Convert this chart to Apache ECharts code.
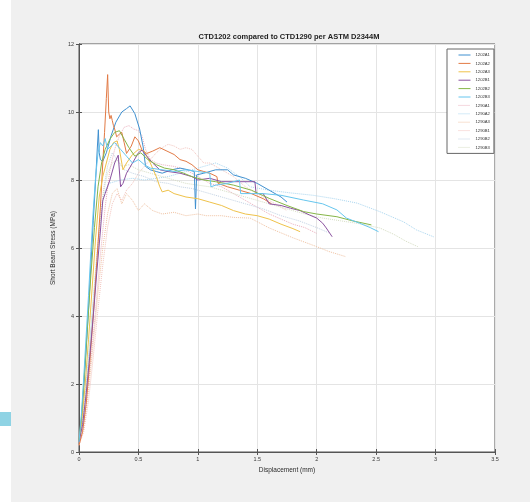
<!DOCTYPE html>
<html>
<head>
<meta charset="utf-8">
<title>CTD1202 compared to CTD1290 per ASTM D2344M</title>
<script src="https://cdn.jsdelivr.net/npm/echarts@6/dist/echarts.min.js"></script>
<style>
  html, body { margin: 0; padding: 0; background: #ffffff; }
  #chart { width: 530px; height: 502px; }
</style>
</head>
<body>
<div id="chart"></div>
<script>
// Axis tick labels
const xTicks = [0, 0.5, 1, 1.5, 2, 2.5, 3, 3.5];
const yTicks = [0, 2, 4, 6, 8, 10, 12];

// Specimen names (legend order)
const specimens = ['1202A1', '1202A2', '1202A3', '1202B1', '1202B2', '1202B3',
                   '1290A1', '1290A2', '1290A3', '1290B1', '1290B2', '1290B3'];

// Displacement (mm) and short beam stress (MPa) per specimen
const disp1202A1 = [0, 0.02, 0.04, 0.06, 0.08, 0.1, 0.12, 0.14, 0.155, 0.163, 0.17, 0.18, 0.2, 0.23, 0.27, 0.31, 0.36, 0.4, 0.43, 0.47, 0.51, 0.54, 0.56, 0.6, 0.65, 0.7, 0.78, 0.85, 0.92, 0.97, 0.98, 0.99, 1.05, 1.15, 1.25, 1.3, 1.4, 1.5, 1.6, 1.7, 1.75];
const stress1202A1 = [0.3, 0.9, 1.9, 3.0, 4.2, 5.5, 6.8, 8.0, 9.0, 9.48, 8.8, 8.6, 8.55, 8.8, 9.3, 9.7, 10.0, 10.1, 10.18, 9.95, 9.5, 8.97, 8.4, 8.3, 8.25, 8.2, 8.3, 8.35, 8.3, 8.25, 7.15, 8.15, 8.2, 8.3, 8.3, 8.15, 8.05, 7.9, 7.7, 7.5, 7.35];

const disp1202A2 = [0, 0.03, 0.06, 0.09, 0.12, 0.15, 0.18, 0.2, 0.215, 0.23, 0.241, 0.25, 0.26, 0.27, 0.28, 0.29, 0.3, 0.317, 0.34, 0.36, 0.38, 0.4, 0.44, 0.47, 0.5, 0.53, 0.57, 0.62, 0.68, 0.74, 0.8, 0.85, 0.9, 0.95, 1.0, 1.05, 1.1, 1.16, 1.17, 1.25, 1.35, 1.45, 1.55, 1.62];
const stress1202A2 = [0.2, 0.6, 1.4, 2.6, 4.0, 5.6, 7.2, 8.5, 9.4, 10.4, 11.1, 10.0, 9.8, 9.9, 9.75, 9.6, 9.5, 9.27, 9.35, 9.4, 9.1, 8.78, 9.0, 9.27, 9.15, 8.88, 8.78, 8.85, 8.95, 8.85, 8.75, 8.6, 8.55, 8.45, 8.3, 8.25, 8.2, 8.1, 7.9, 7.8, 7.7, 7.6, 7.45, 7.3];

const disp1202A3 = [0, 0.02, 0.05, 0.08, 0.11, 0.14, 0.17, 0.2, 0.23, 0.26, 0.29, 0.32, 0.34, 0.37, 0.4, 0.45, 0.5, 0.55, 0.6, 0.65, 0.68, 0.7, 0.75, 0.8, 0.9, 1.0, 1.1, 1.2, 1.3, 1.4, 1.5, 1.6, 1.7, 1.8, 1.86];
const stress1202A3 = [0.3, 0.8, 1.9, 3.3, 4.8, 6.3, 7.5, 8.1, 8.5, 8.9, 9.1, 9.15, 8.9, 8.3, 8.5, 8.75, 8.9, 8.85, 8.5, 8.1, 7.8, 7.65, 7.7, 7.6, 7.5, 7.45, 7.35, 7.25, 7.1, 7.0, 6.95, 6.85, 6.7, 6.57, 6.48];

const disp1202B1 = [0, 0.03, 0.06, 0.09, 0.12, 0.15, 0.18, 0.2, 0.22, 0.26, 0.3, 0.33, 0.35, 0.37, 0.4, 0.45, 0.5, 0.53, 0.57, 0.62, 0.68, 0.75, 0.85, 0.95, 1.0, 1.1, 1.2, 1.3, 1.48, 1.49, 1.55, 1.6, 1.7, 1.78, 1.86, 1.94, 2.0, 2.05, 2.08, 2.13];
const stress1202B1 = [0.3, 0.8, 1.7, 2.8, 4.0, 5.3, 6.5, 7.4, 7.6, 8.0, 8.5, 8.73, 7.8, 7.9, 8.2, 8.5, 8.8, 8.88, 8.7, 8.5, 8.3, 8.25, 8.2, 8.1, 8.0, 8.05, 7.95, 7.95, 7.95, 7.6, 7.6, 7.3, 7.25, 7.17, 7.1, 6.97, 6.88, 6.73, 6.59, 6.33];

const disp1202B2 = [0, 0.02, 0.04, 0.07, 0.1, 0.13, 0.16, 0.19, 0.22, 0.26, 0.3, 0.34, 0.38, 0.42, 0.47, 0.52, 0.58, 0.65, 0.72, 0.8, 0.88, 0.95, 1.05, 1.15, 1.3, 1.45, 1.6, 1.75, 1.89, 2.0, 2.17, 2.3, 2.46];
const stress1202B2 = [0.35, 1.0, 2.0, 3.6, 5.2, 6.6, 7.8, 8.5, 8.9, 9.2, 9.4, 9.45, 9.2, 8.95, 8.7, 8.8, 8.6, 8.45, 8.35, 8.3, 8.2, 8.1, 8.0, 7.95, 7.85, 7.7, 7.46, 7.25, 7.07, 7.0, 6.92, 6.8, 6.68];

const disp1202B3 = [0, 0.02, 0.04, 0.06, 0.08, 0.1, 0.12, 0.14, 0.16, 0.18, 0.2, 0.22, 0.24, 0.27, 0.3, 0.35, 0.4, 0.45, 0.5, 0.55, 0.6, 0.7, 0.8, 0.9, 1.0, 1.1, 1.11, 1.15, 1.25, 1.35, 1.36, 1.45, 1.55, 1.7, 1.89, 2.05, 2.17, 2.25, 2.36, 2.45, 2.52];
const stress1202B3 = [0.3, 1.1, 2.2, 3.4, 4.6, 5.9, 7.1, 8.1, 8.8, 9.1, 9.0, 9.22, 8.9, 9.0, 9.1, 8.9, 8.7, 8.5, 8.6, 8.45, 8.35, 8.3, 8.25, 8.3, 8.25, 8.2, 7.8, 7.85, 7.9, 8.0, 7.6, 7.6, 7.6, 7.55, 7.41, 7.3, 7.12, 6.88, 6.73, 6.6, 6.48];

const disp1290A1 = [0, 0.03, 0.06, 0.1, 0.14, 0.18, 0.22, 0.26, 0.3, 0.34, 0.38, 0.42, 0.46, 0.5, 0.53, 0.56, 0.6, 0.65, 0.7, 0.8, 0.9, 1.0, 1.1, 1.2, 1.3, 1.4, 1.5, 1.6, 1.7, 1.8, 1.9, 2.0];
const stress1290A1 = [0.2, 0.6, 1.4, 2.7, 4.2, 5.8, 7.2, 8.3, 8.9, 9.3, 9.55, 9.6, 9.5, 9.45, 9.3, 8.9, 8.6, 8.5, 8.45, 8.4, 8.3, 8.1, 7.9, 7.8, 7.6, 7.4, 7.2, 7.0, 6.85, 6.7, 6.6, 6.43];

const disp1290A2 = [0, 0.03, 0.06, 0.09, 0.12, 0.15, 0.18, 0.21, 0.25, 0.3, 0.35, 0.45, 0.55, 0.65, 0.75, 0.85, 0.95, 1.05, 1.15, 1.25, 1.35, 1.44, 1.6, 1.78, 1.97, 2.15, 2.34, 2.53, 2.73, 2.84, 2.99];
const stress1290A2 = [0.3, 0.9, 2.0, 3.2, 4.5, 5.8, 6.9, 7.6, 7.9, 7.95, 8.0, 8.05, 8.0, 8.05, 8.1, 8.2, 8.3, 8.4, 8.5, 8.35, 8.1, 7.8, 7.7, 7.62, 7.55, 7.45, 7.32, 7.07, 6.77, 6.53, 6.32];

const disp1290A3 = [0, 0.04, 0.08, 0.12, 0.16, 0.2, 0.24, 0.28, 0.32, 0.36, 0.4, 0.45, 0.5, 0.55, 0.62, 0.7, 0.8, 0.9, 1.0, 1.07, 1.2, 1.3, 1.44, 1.6, 1.8, 2.0, 2.1, 2.24];
const stress1290A3 = [0.2, 0.7, 1.8, 3.2, 4.7, 6.0, 7.0, 7.6, 7.75, 7.3, 7.6, 7.4, 7.1, 7.3, 7.1, 7.0, 7.05, 6.95, 7.0, 6.95, 6.95, 6.9, 6.88, 6.59, 6.3, 6.04, 5.9, 5.75];

const disp1290B1 = [0, 0.04, 0.08, 0.12, 0.16, 0.2, 0.24, 0.28, 0.32, 0.36, 0.4, 0.45, 0.5, 0.55, 0.6, 0.65, 0.7, 0.75, 0.8, 0.85, 0.9, 0.95, 1.0, 1.05, 1.1, 1.2, 1.3, 1.4, 1.5, 1.6, 1.75];
const stress1290B1 = [0.2, 0.6, 1.5, 2.8, 4.2, 5.5, 6.6, 7.3, 7.6, 7.4, 7.7, 7.9, 8.2, 8.4, 8.6, 8.8, 8.95, 9.05, 9.0, 8.9, 8.95, 8.9, 8.7, 8.5, 8.5, 8.3, 8.1, 7.8, 7.6, 7.4, 7.1];

const disp1290B2 = [0, 0.03, 0.06, 0.09, 0.12, 0.15, 0.18, 0.21, 0.24, 0.28, 0.32, 0.38, 0.45, 0.55, 0.65, 0.75, 0.85, 0.95, 1.1, 1.25, 1.4, 1.55, 1.7, 1.85, 2.0, 2.1];
const stress1290B2 = [0.3, 0.9, 1.9, 3.1, 4.4, 5.7, 6.9, 7.8, 8.4, 8.8, 8.6, 8.3, 8.2, 8.1, 7.95, 7.9, 7.8, 7.75, 7.6, 7.45, 7.3, 7.15, 6.95, 6.8, 6.6, 6.45];

const disp1290B3 = [0, 0.03, 0.06, 0.09, 0.12, 0.15, 0.18, 0.21, 0.24, 0.28, 0.32, 0.36, 0.42, 0.5, 0.6, 0.7, 0.8, 0.9, 1.0, 1.1, 1.2, 1.3, 1.4, 1.5, 1.6, 1.7, 1.8, 1.9, 2.05, 2.2, 2.35, 2.53, 2.65, 2.75, 2.85];
const stress1290B3 = [0.3, 0.8, 1.8, 3.0, 4.3, 5.6, 6.8, 7.7, 8.2, 8.5, 8.6, 8.4, 8.45, 8.3, 8.2, 8.1, 8.0, 7.9, 7.85, 7.8, 7.7, 7.6, 7.5, 7.4, 7.3, 7.2, 7.1, 7.0, 6.88, 6.8, 6.72, 6.59, 6.4, 6.2, 6.04];

const dispData = [disp1202A1, disp1202A2, disp1202A3, disp1202B1, disp1202B2, disp1202B3,
                  disp1290A1, disp1290A2, disp1290A3, disp1290B1, disp1290B2, disp1290B3];
const stressData = [stress1202A1, stress1202A2, stress1202A3, stress1202B1, stress1202B2, stress1202B3,
                    stress1290A1, stress1290A2, stress1290A3, stress1290B1, stress1290B2, stress1290B3];

// Solid lines for CTD1202, pale dotted lines for CTD1290
const lineColors = ['#3F90D0', '#E27A45', '#EFC24A', '#8B52A0', '#86B648', '#66C6EE',
                    '#EBB0BE', '#A9D6F0', '#F0C2A2', '#F3C4BE', '#C2D2E4', '#D6DEC4'];

const series = specimens.map((name, i) => ({
  name: name,
  type: 'line',
  data: dispData[i].map((d, k) => [d, stressData[i][k]]),
  symbol: 'none',
  animation: false,
  clip: true,
  lineStyle: {
    color: lineColors[i],
    width: 1,
    type: i < 6 ? 'solid' : 'dotted'
  },
  itemStyle: { color: lineColors[i] },
  z: i < 6 ? 3 : 2
}));

const axisGray = '#555555';
const labelGray = '#3a3a3a';
const gridGray = '#e4e4e4';
const font = 'Liberation Sans, Arial, sans-serif';

const chart = echarts.init(document.getElementById('chart'), null, { renderer: 'canvas' });
chart.setOption({
  backgroundColor: '#ffffff',
  animation: false,
  graphic: [
    { type: 'rect', z: -10, silent: true, shape: { x: 11, y: 0, width: 519, height: 502 }, style: { fill: '#f0f0f0' } },
    { type: 'rect', z: -10, silent: true, shape: { x: 0, y: 412, width: 11, height: 14 }, style: { fill: '#8fd3e4' } }
  ],
  title: {
    text: 'CTD1202 compared to CTD1290 per ASTM D2344M',
    left: 289, top: 33, textAlign: 'center', padding: 0,
    textStyle: { fontFamily: font, fontSize: 7.5, fontWeight: 'bold', color: '#222222' }
  },
  legend: {
    data: specimens,
    orient: 'vertical',
    left: 447, top: 49,
    padding: [4, 4, 4, 11],
    itemWidth: 12, itemHeight: 5, itemGap: 4.4,
    itemStyle: { opacity: 0, borderWidth: 0 },
    lineStyle: { width: 1 },
    backgroundColor: '#ffffff',
    borderColor: '#666666', borderWidth: 1, borderRadius: 0,
    textStyle: { fontFamily: font, fontSize: 4.2, color: '#333333' }
  },
  grid: {
    left: 79, right: 35, top: 44, bottom: 50,
    show: true, backgroundColor: '#ffffff', borderColor: axisGray, borderWidth: 1
  },
  xAxis: [{
    type: 'value', min: 0, max: 3.5, interval: 0.5,
    name: 'Displacement (mm)', nameLocation: 'middle', nameGap: 13,
    nameTextStyle: { fontFamily: font, fontSize: 6.5, color: '#2a2a2a' },
    axisLine: { show: true, lineStyle: { color: axisGray, width: 1 } },
    axisTick: { show: true, inside: true, length: 3, lineStyle: { color: axisGray } },
    axisLabel: { margin: 4, fontFamily: font, fontSize: 5.5, color: labelGray,
                 formatter: v => String(xTicks.find(t => Math.abs(t - v) < 1e-9) ?? v) },
    splitLine: { show: true, lineStyle: { color: gridGray, width: 1 } }
  }, {
    type: 'value', min: 0, max: 3.5, interval: 0.5, position: 'top',
    axisLine: { show: true, lineStyle: { color: axisGray } },
    axisTick: { show: true, inside: true, length: 3, lineStyle: { color: axisGray } },
    axisLabel: { show: false }, splitLine: { show: false }
  }],
  yAxis: [{
    type: 'value', min: 0, max: 12, interval: 2,
    name: 'Short Beam Stress (MPa)', nameLocation: 'middle', nameGap: 12,
    nameTextStyle: { fontFamily: font, fontSize: 6.5, color: '#2a2a2a' },
    axisLine: { show: true, lineStyle: { color: axisGray, width: 1 } },
    axisTick: { show: true, inside: true, length: 3, lineStyle: { color: axisGray } },
    axisLabel: { margin: 5, fontFamily: font, fontSize: 5.5, color: labelGray,
                 formatter: v => String(yTicks.find(t => t === v) ?? v) },
    splitLine: { show: true, lineStyle: { color: gridGray, width: 1 } }
  }, {
    type: 'value', min: 0, max: 12, interval: 2, position: 'right',
    axisLine: { show: true, lineStyle: { color: axisGray } },
    axisTick: { show: true, inside: true, length: 3, lineStyle: { color: axisGray } },
    axisLabel: { show: false }, splitLine: { show: false }
  }],
  series: series
});
</script>
</body>
</html>
